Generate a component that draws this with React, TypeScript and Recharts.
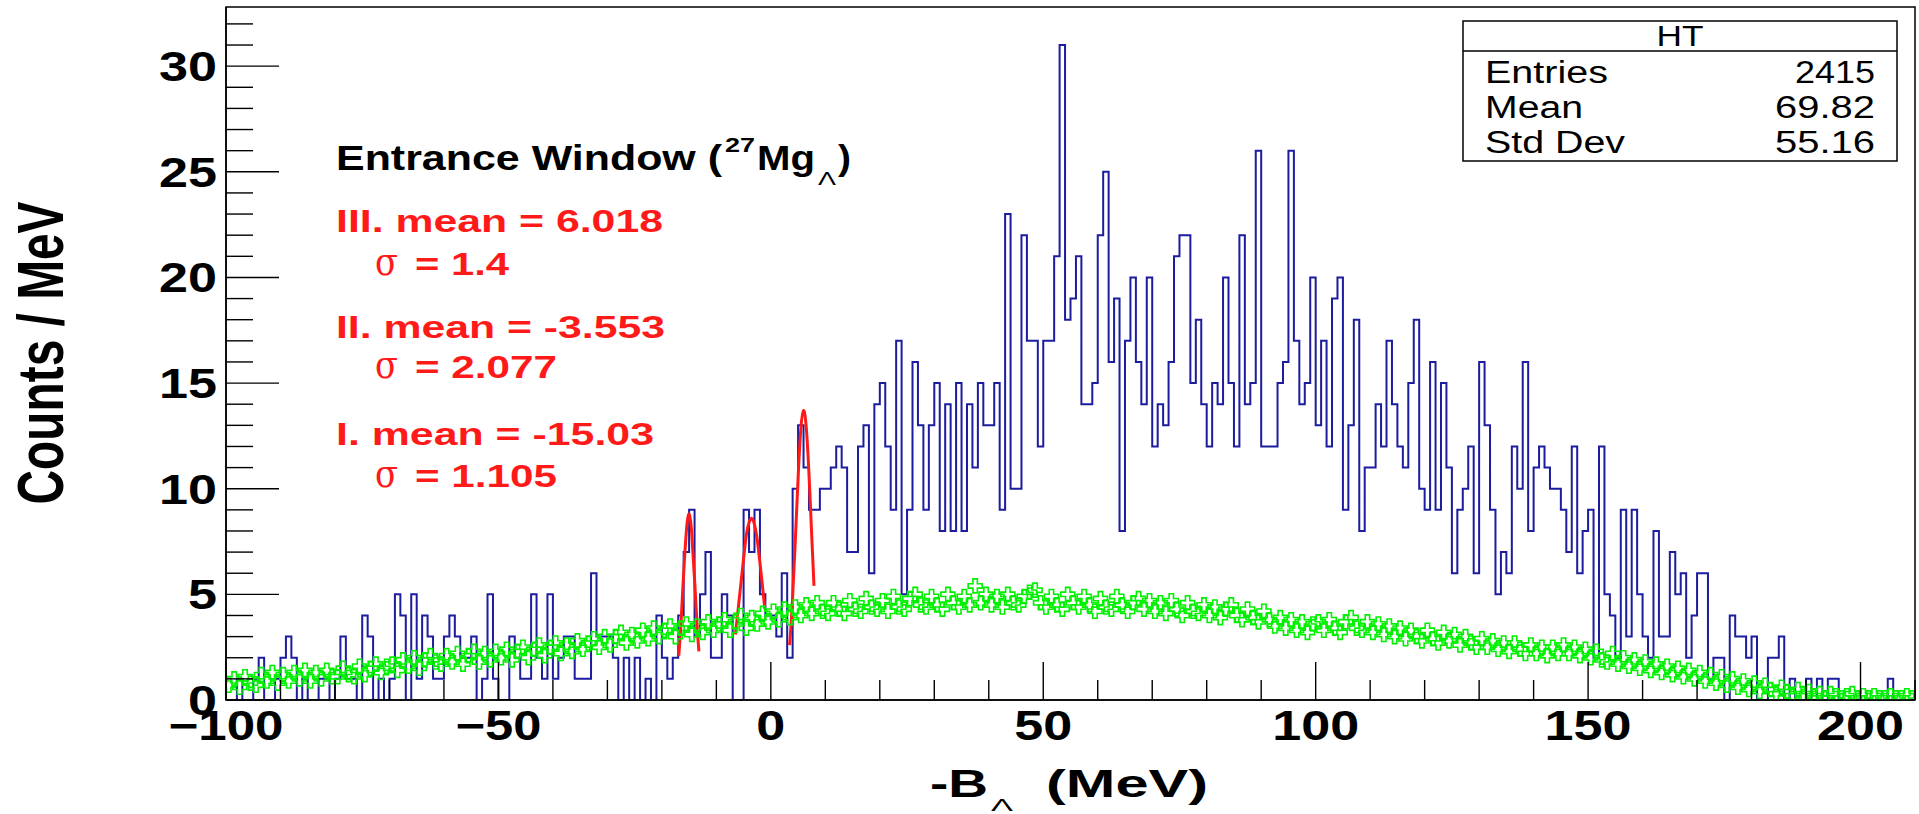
import React from 'react';
import { ComposedChart, Line, Scatter, XAxis, YAxis } from 'recharts';

// -B_Lambda axis, 1 MeV bins from -100 to 210
const X_MIN = -100;
const X_MAX = 210;
const Y_MAX = 32.8;

// HT histogram, counts per 1 MeV bin (bin i starts at X_MIN + i)
const htCounts = [
  0, 0, 1, 0, 0, 1, 2, 0, 0, 1,
  2, 3, 2, 0, 1, 0, 0, 1, 1, 0,
  1, 3, 1, 1, 0, 4, 3, 0, 1, 0,
  1, 5, 4, 0, 5, 1, 4, 3, 1, 1,
  3, 4, 3, 2, 2, 3, 0, 1, 5, 1,
  0, 0, 3, 2, 1, 1, 5, 2, 1, 5,
  1, 2, 3, 3, 1, 1, 1, 6, 3, 3,
  3, 2, 0, 2, 0, 2, 0, 1, 0, 4,
  2, 1, 2, 4, 7, 9, 3, 5, 7, 2,
  2, 5, 4, 0, 0, 9, 7, 9, 5, 4,
  4, 3, 6, 2, 10, 13, 11, 9, 9, 10,
  10, 11, 12, 11, 7, 7, 12, 13, 6, 14,
  15, 12, 9, 17, 5, 9, 16, 13, 9, 13,
  15, 8, 14, 8, 15, 8, 14, 11, 15, 13,
  13, 15, 9, 23, 10, 10, 22, 17, 17, 12,
  17, 17, 21, 31, 18, 19, 21, 14, 14, 15,
  22, 25, 16, 19, 8, 17, 20, 16, 14, 20,
  12, 14, 13, 16, 21, 22, 22, 15, 18, 14,
  12, 15, 14, 20, 15, 12, 22, 14, 15, 26,
  12, 12, 12, 15, 16, 26, 17, 14, 15, 20,
  13, 17, 12, 19, 20, 9, 13, 18, 8, 11,
  11, 14, 12, 17, 14, 12, 11, 15, 18, 10,
  9, 16, 9, 15, 11, 6, 9, 10, 12, 6,
  16, 13, 9, 5, 7, 6, 12, 10, 16, 8,
  11, 12, 11, 10, 10, 9, 7, 12, 6, 8,
  9, 2, 12, 5, 4, 2, 9, 3, 9, 5,
  3, 2, 8, 3, 3, 7, 5, 6, 2, 4,
  6, 6, 1, 2, 2, 0, 4, 3, 3, 2,
  3, 0, 0, 2, 2, 3, 0, 1, 0, 0,
  1, 0, 1, 0, 1, 1, 0, 0, 0, 0,
  0, 0, 0, 0, 0, 1, 0, 0, 0, 0,
];

// background (green open crosses), one per bin centre
const bgCounts = [
  0.7, 1.0, 0.6, 1.1, 0.8, 0.7, 1.2, 0.9, 1.3, 0.8,
  1.2, 0.9, 1.3, 1.0, 1.4, 0.9, 1.3, 1.0, 1.4, 1.1,
  1.1, 1.5, 1.2, 1.1, 1.6, 1.2, 1.5, 1.7, 1.3, 1.6,
  1.7, 1.4, 1.9, 1.6, 2.0, 1.5, 1.9, 2.1, 1.8, 1.7,
  2.1, 1.8, 2.2, 1.7, 2.1, 2.3, 1.8, 2.2, 1.9, 2.3,
  2.0, 2.4, 1.9, 2.3, 2.5, 2.0, 2.4, 2.6, 2.1, 2.5,
  2.7, 2.2, 2.6, 2.3, 2.8, 2.4, 2.7, 2.9, 2.5, 3.0,
  2.6, 3.0, 3.2, 2.7, 3.1, 2.8, 3.3, 2.9, 3.4, 3.0,
  3.3, 3.5, 3.0, 3.4, 3.6, 3.1, 3.5, 3.2, 3.7, 3.3,
  3.6, 3.8, 3.3, 3.7, 4.0, 3.4, 3.9, 3.6, 4.1, 3.7,
  4.2, 3.8, 4.3, 3.9, 4.4, 4.0, 4.5, 4.1, 4.6, 4.2,
  4.1, 4.6, 4.3, 4.1, 4.7, 4.3, 4.2, 4.8, 4.4, 4.3,
  4.7, 4.2, 4.9, 4.4, 4.3, 4.8, 5.0, 4.5, 4.4, 4.9,
  4.5, 4.3, 5.0, 4.6, 4.4, 4.9, 4.5, 5.4, 4.6, 5.0,
  4.5, 4.9, 4.4, 5.0, 4.6, 4.5, 4.9, 5.1, 5.2, 4.6,
  4.4, 4.9, 4.5, 4.3, 5.0, 4.6, 4.4, 4.9, 4.5, 4.2,
  4.8, 4.4, 4.3, 4.9, 4.5, 4.2, 4.6, 4.8, 4.3, 4.7,
  4.2, 4.6, 4.1, 4.7, 4.3, 4.0, 4.6, 4.2, 4.1, 4.5,
  4.0, 4.4, 3.9, 4.3, 4.5, 4.0, 3.8, 4.3, 3.9, 3.7,
  4.2, 3.8, 3.5, 3.9, 3.4, 3.8, 3.3, 3.7, 3.2, 3.6,
  3.7, 3.3, 3.8, 3.4, 3.2, 3.7, 3.9, 3.4, 3.3, 3.7,
  3.2, 3.6, 3.1, 3.5, 3.0, 3.4, 2.9, 3.3, 3.0, 2.8,
  3.3, 2.9, 2.7, 3.2, 2.8, 3.1, 2.6, 3.0, 2.7, 2.5,
  2.9, 2.5, 2.8, 2.4, 2.7, 2.3, 2.7, 2.4, 2.2, 2.6,
  2.2, 2.5, 2.1, 2.5, 2.2, 2.6, 2.2, 2.5, 2.1, 2.4,
  2.0, 2.3, 1.9, 1.8, 2.2, 1.7, 2.0, 1.6, 1.9, 1.5,
  1.8, 1.4, 1.7, 1.3, 1.6, 1.2, 1.5, 1.1, 1.4, 1.0,
  1.3, 0.9, 1.2, 0.8, 1.1, 0.7, 1.0, 0.6, 0.9, 0.5,
  0.8, 0.4, 0.7, 0.5, 0.3, 0.6, 0.4, 0.2, 0.5, 0.3,
  0.4, 0.2, 0.3, 0.1, 0.3, 0.2, 0.1, 0.2, 0.3, 0.1,
  0.2, 0.1, 0.2, 0.1, 0.1, 0.2, 0.1, 0.1, 0.2, 0.1,
];

// red fit curves
const fitI = [
  { x: -16.9, y: 2.1 }, { x: -16.5, y: 3.6 }, { x: -16.0, y: 6.0 }, { x: -15.5, y: 8.0 },
  { x: -15.25, y: 8.6 }, { x: -15.0, y: 8.8 }, { x: -14.75, y: 8.5 }, { x: -14.5, y: 7.8 },
  { x: -14.0, y: 5.7 }, { x: -13.5, y: 3.4 }, { x: -13.2, y: 2.3 },
];
const fitII = [
  { x: -6.5, y: 3.1 }, { x: -6.0, y: 4.3 }, { x: -5.5, y: 5.5 }, { x: -5.0, y: 6.7 },
  { x: -4.5, y: 7.8 }, { x: -4.0, y: 8.4 }, { x: -3.5, y: 8.6 }, { x: -3.0, y: 8.3 },
  { x: -2.5, y: 7.6 }, { x: -2.0, y: 6.5 }, { x: -1.5, y: 5.3 }, { x: -1.1, y: 4.3 },
];
const fitIII = [
  { x: 3.45, y: 2.6 }, { x: 3.75, y: 3.7 }, { x: 4.0, y: 4.9 }, { x: 4.5, y: 7.6 },
  { x: 5.0, y: 10.5 }, { x: 5.5, y: 12.8 }, { x: 6.0, y: 13.7 }, { x: 6.5, y: 12.9 },
  { x: 7.0, y: 10.7 }, { x: 7.5, y: 7.8 }, { x: 7.92, y: 5.4 },
];

const xTicks = [-100, -90, -80, -70, -60, -50, -40, -30, -20, -10, 0, 10, 20, 30, 40, 50,
  60, 70, 80, 90, 100, 110, 120, 130, 140, 150, 160, 170, 180, 190, 200, 210];
const yTicks = [0, 1, 2, 3, 4, 5, 6, 7, 8, 9, 10, 11, 12, 13, 14, 15, 16, 17, 18, 19, 20,
  21, 22, 23, 24, 25, 26, 27, 28, 29, 30, 31, 32];

const statRows = [
  ['Entries', '2415'],
  ['Mean', '69.82'],
  ['Std Dev', '55.16'],
];

const FONT = '"Liberation Sans", Arial, Helvetica, sans-serif';
const BLUE = '#1c1c9e';
const GREEN = '#00f000';
const RED = '#ff1a1a';

const histData = htCounts.map((c, i) => ({ x: X_MIN + i, y: c }));
histData.push({ x: X_MAX, y: htCounts[htCounts.length - 1] });
const bgData = bgCounts.map((c, i) => ({ x: X_MIN + i + 0.5, y: c }));

const Txt = ({ x, y, len, size, children, anchor = 'start', weight = 'bold', fill = '#000', family = FONT }: any) => (
  <text x={x} y={y} fontSize={size} fontWeight={weight} fill={fill} fontFamily={family}
    textAnchor={anchor} textLength={len} lengthAdjust="spacingAndGlyphs">
    {children}
  </text>
);

const XTick = (props: any) => {
  const { x, y, payload } = props;
  const v = payload.value;
  const major = v % 50 === 0;
  const label = v < 0 ? `\u2212${-v}` : `${v}`;
  const len = String(Math.abs(v)).length * 29 + (v < 0 ? 28 : 0);
  return (
    <g>
      <line x1={x} y1={y} x2={x} y2={y - (major ? 38 : 20)} stroke="#000" strokeWidth={1.4} />
      {major && (
        <Txt x={x} y={y + 40} size={42} len={len} anchor="middle">{label}</Txt>
      )}
    </g>
  );
};

const YTick = (props: any) => {
  const { x, y, payload } = props;
  const v = payload.value;
  const major = v % 5 === 0;
  return (
    <g>
      <line x1={x} y1={y} x2={x + (major ? 53 : 27)} y2={y} stroke="#000" strokeWidth={1.4} />
      {major && (
        <Txt x={x - 9} y={y + 15} size={42} len={String(v).length * 29} anchor="end">{v}</Txt>
      )}
    </g>
  );
};

const OpenCross = (props: any) => {
  const { cx, cy } = props;
  if (cx == null || cy == null) return null;
  const s = 7;
  const a = 2.2;
  const d = `M${cx - a},${cy - s}H${cx + a}V${cy - a}H${cx + s}V${cy + a}H${cx + a}V${cy + s}` +
    `H${cx - a}V${cy + a}H${cx - s}V${cy - a}H${cx - a}Z`;
  return <path d={d} fill="none" stroke={GREEN} strokeWidth={1.6} />;
};

const Overlay = () => (
  <svg width={1919} height={814} style={{ position: 'absolute', left: 0, top: 0, pointerEvents: 'none' }}>
    <rect x={226} y={7} width={1689} height={693} fill="none" stroke="#000" strokeWidth={1.5} />

    {/* stats box */}
    <rect x={1463} y={21} width={434} height={140} fill="#fff" stroke="#000" strokeWidth={1.5} />
    <line x1={1463} y1={51} x2={1897} y2={51} stroke="#000" strokeWidth={1.5} />
    <Txt x={1680} y={46} size={29} len={47} anchor="middle" weight="normal">HT</Txt>
    {statRows.map(([k, v], i) => (
      <g key={k}>
        <Txt x={1485} y={83 + i * 35} size={31} weight="normal"
          len={k === 'Entries' ? 123 : k === 'Mean' ? 98 : 140}>{k}</Txt>
        <Txt x={1875} y={83 + i * 35} size={31} weight="normal" anchor="end"
          len={v.length * 20}>{v}</Txt>
      </g>
    ))}

    {/* annotation */}
    <Txt x={336} y={170} size={35} len={386}>Entrance Window (</Txt>
    <Txt x={725} y={152} size={21} len={30}>27</Txt>
    <Txt x={757} y={170} size={35} len={58}>Mg</Txt>
    <Txt x={818} y={185} size={18} len={18} weight="normal">Λ</Txt>
    <Txt x={838} y={170} size={35} len={13}>)</Txt>

    <Txt x={336} y={232} size={31} len={327} fill={RED}>III. mean = 6.018</Txt>
    <Txt x={375} y={275} size={40} len={23} fill={RED} weight="normal" family='"DejaVu Serif", serif'>σ</Txt>
    <Txt x={415} y={275} size={31} len={94} fill={RED}>= 1.4</Txt>

    <Txt x={336} y={338} size={31} len={329} fill={RED}>II. mean = -3.553</Txt>
    <Txt x={375} y={378} size={40} len={23} fill={RED} weight="normal" family='"DejaVu Serif", serif'>σ</Txt>
    <Txt x={415} y={378} size={31} len={142} fill={RED}>= 2.077</Txt>

    <Txt x={336} y={445} size={31} len={318} fill={RED}>I. mean = -15.03</Txt>
    <Txt x={375} y={487} size={40} len={23} fill={RED} weight="normal" family='"DejaVu Serif", serif'>σ</Txt>
    <Txt x={415} y={487} size={31} len={142} fill={RED}>= 1.105</Txt>

    {/* axis titles */}
    <Txt x={930} y={797} size={38} len={58}>-B</Txt>
    <Txt x={991} y={811} size={17} len={22} weight="normal">Λ</Txt>
    <Txt x={1046} y={797} size={38} len={162}>(MeV)</Txt>
    <text transform="translate(63,353) rotate(-90)" textAnchor="middle" fontSize={64} fontWeight="bold"
      fontFamily={FONT} textLength={303} lengthAdjust="spacingAndGlyphs">Counts / MeV</text>
  </svg>
);

export default function App() {
  return (
    <div style={{ position: 'absolute', left: 0, top: 0, width: 1919, height: 814, background: '#fff', overflow: 'hidden' }}>
      <ComposedChart width={1919} height={814} margin={{ top: 7, right: 4, bottom: 0, left: 0 }}>
        <XAxis dataKey="x" type="number" domain={[X_MIN, X_MAX]} ticks={xTicks} interval={0}
          allowDataOverflow height={114} tickSize={0} tickMargin={0} tickLine={false}
          axisLine={{ stroke: '#000', strokeWidth: 1.5 }} tick={<XTick />} />
        <YAxis type="number" domain={[0, Y_MAX]} ticks={yTicks} interval={0} allowDataOverflow
          width={226} tickSize={0} tickMargin={0} tickLine={false}
          axisLine={{ stroke: '#000', strokeWidth: 1.5 }} tick={<YTick />} />
        <Line data={histData} dataKey="y" type="stepAfter" stroke={BLUE} strokeWidth={2}
          dot={false} isAnimationActive={false} />
        <Scatter data={bgData} dataKey="y" shape={<OpenCross />} isAnimationActive={false} />
        <Line data={fitI} dataKey="y" type="natural" stroke={RED} strokeWidth={3} dot={false} isAnimationActive={false} />
        <Line data={fitII} dataKey="y" type="natural" stroke={RED} strokeWidth={3} dot={false} isAnimationActive={false} />
        <Line data={fitIII} dataKey="y" type="natural" stroke={RED} strokeWidth={3} dot={false} isAnimationActive={false} />
      </ComposedChart>
      <Overlay />
    </div>
  );
}
